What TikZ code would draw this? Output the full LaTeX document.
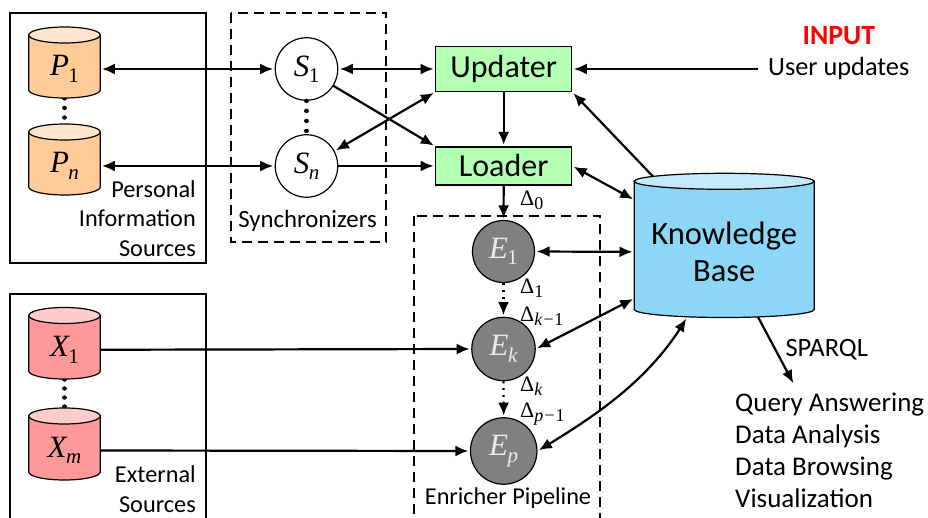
\documentclass[tikz,border=0pt]{standalone}
\usepackage{fontspec}
\setmainfont{Carlito}
\newfontfamily\mathf{Liberation Serif}
\usetikzlibrary{arrows.meta,bending}
\definecolor{porange}{HTML}{FFCC99}
\definecolor{porangetop}{HTML}{FFE5CC}
\definecolor{xred}{HTML}{FF9999}
\definecolor{xredtop}{HTML}{FFCCCC}
\definecolor{upgreen}{HTML}{B3FFB3}
\definecolor{kbblue}{HTML}{8CD7F8}
\definecolor{kbtop}{HTML}{C4E9FB}
\definecolor{engrey}{HTML}{808080}
% big math-like symbol with subscript
\newcommand{\sym}[2]{{\fontsize{31}{31}\mathf\itshape #1\kern-0.5pt\raisebox{-6.5pt}{\fontsize{21}{21}\selectfont #2}}}
\newcommand{\dlt}[1]{{\fontsize{22}{22}\mathf Δ\raisebox{-4pt}{\fontsize{18}{18}\selectfont #1}}}
\newcommand{\cyl}[9]{%
  \draw[cylline,fill=#1] (#4-#6,#5) -- (#4-#6,#7) arc[start angle=180,end angle=0,x radius=#6,y radius=8] -- (#4+#6,#5) -- cycle;
  \draw[cylline,fill=#2] (#4,#5) ellipse[x radius=#6,y radius=8];
  \pgfmathsetmacro{\cyly}{(#5+#7)/2+6.5}
  \pgfmathsetmacro{\cylh}{#7-#5}
  \pgfmathsetmacro{\cylw}{2*#6}
  \node[minimum width=\cylw pt,minimum height=\cylh pt,inner sep=0pt,#8] (#3) at (#4,\cyly) {#9};
}
\tikzset{
  cylline/.style={line width=1.2pt,draw=black},
  conn/.style={line width=2.2pt,-{Latex[length=13pt,width=11pt]},shorten >=1.5pt},
  bothconn/.style={line width=2.2pt,{Latex[length=13pt,width=11pt]}-{Latex[length=13pt,width=11pt]},shorten >=1.5pt,shorten <=1.5pt},
  ellipsis/.style={line width=4.4pt,line cap=round,dash pattern=on 0.01pt off 9.6pt},
  dotconn/.style={line width=2.2pt,dash pattern=on 2pt off 4.8pt,-{Latex[length=13pt,width=11pt]},shorten >=1.5pt},
  outerbox/.style={draw=black,line width=2pt},
  dashbox/.style={draw=black,line width=2pt,dash pattern=on 10pt off 6pt},
  syncnode/.style={circle,draw=black,line width=1.2pt,fill=white,minimum size=62.5pt,inner sep=0pt},
  enrnode/.style={circle,draw=black,line width=1.2pt,fill=engrey,text=black!8,inner sep=0pt},
  compbox/.style={draw=black,line width=1.2pt,fill=upgreen,inner sep=0pt,font=\fontsize{32}{32}\selectfont},
  captxt/.style={inner sep=0pt,font=\fontsize{24.3}{29.5}\selectfont},
  biglabel/.style={inner sep=0pt,font=\fontsize{26}{26}\selectfont},
  dlabel/.style={inner sep=0pt,anchor=west},
}
\begin{document}
\begin{tikzpicture}[x=1pt,y=1pt,yscale=-1]
\clip (0,0) rectangle (928,518);
\fill[white] (0,0) rectangle (928,518);

% containers
\draw[outerbox] (10,13) rectangle (205.5,263);
\draw[outerbox] (10,294) rectangle (205.5,540);
\draw[dashbox] (230.5,13) rectangle (386,242);
\draw[dashbox] (413.5,216) rectangle (600,540);

% ellipses between source cylinders (behind them)
\coordinate (pdotA) at (64.5,98.3);
\coordinate (pdotB) at (64.5,127);
\coordinate (xdotA) at (64.5,379.5);
\coordinate (xdotB) at (64.5,410);
\draw[ellipsis] (pdotA) -- (pdotB);
\draw[ellipsis,dash pattern=on 0.01pt off 9pt] (xdotA) -- (xdotB);

% source cylinders
\cyl{porange}{porangetop}{P1}{64.5}{35}{35.75}{90}{}{\sym{P}{\upshape 1}}
\cyl{porange}{porangetop}{Pn}{64.5}{132}{35.75}{187}{}{\sym{P}{n}}
\cyl{xred}{xredtop}{X1}{64.5}{315.5}{35.75}{371}{}{\sym{X}{\upshape 1}}
\cyl{xred}{xredtop}{Xm}{64.5}{416}{35.75}{472}{}{\sym{X}{m}}

% knowledge base
\cyl{kbblue}{kbtop}{kb}{724.2}{181.3}{90}{309.5}{align=center,font=\fontsize{32.5}{36.5}\selectfont}{Knowledge\\Base}
\coordinate (kbU) at (653,176.5);
\coordinate (kbL) at (634.5,200);
\coordinate (kbK) at (634.5,298.3);
\coordinate (kbP) at (687,317.3);
\coordinate (kbQ) at (758,317);

% synchronizers
\node[syncnode] (S1) at (306.5,69) {\sym{S}{\upshape 1}};
\node[syncnode] (Sn) at (306.5,166) {\sym{S}{n}};
\draw[ellipsis,dash pattern=on 0.01pt off 10pt] (S1.south) -- (Sn.north);

% updater, loader
\node[compbox,minimum width=136pt,minimum height=45pt] (upd) at (503.7,69) {Updater};
\node[compbox,minimum width=136pt,minimum height=38pt] (load) at (503.7,166) {Loader};

% enrichers
\node[enrnode,minimum size=62pt] (E1) at (503.5,251.5) {\sym{E}{\upshape 1}};
\node[enrnode,minimum size=63.4pt] (Ek) at (503.5,349) {\sym{E}{k}};
\node[enrnode,minimum size=66.5pt] (Ep) at (503.7,451) {\sym{E}{p}};

% labels
\node[captxt,anchor=east,align=right] (persLbl) at (196,218.5) {Personal\\Information\\Sources};
\node[captxt,anchor=east,align=right] (extLbl) at (196,489) {External\\Sources};
\node[captxt,font=\fontsize{24.8}{24.8}\selectfont] (syncLbl) at (307.5,221) {Synchronizers};
\node[captxt,font=\fontsize{24.2}{24.2}\selectfont] (enrLbl) at (508,498.5) {Enricher Pipeline};
\node[biglabel,text=red,font=\fontsize{27.8}{27.8}\selectfont\bfseries] (inLbl) at (838.8,36) {INPUT};
\node[biglabel,anchor=west,font=\fontsize{26.3}{26.3}\selectfont] (userLbl) at (768,68.5) {User updates};
\coordinate (userEnd) at (757.7,69);
\node[captxt,font=\fontsize{26.5}{26.5}\selectfont] (sparqlLbl) at (826.7,350) {SPARQL};
\node[biglabel,anchor=north west,align=left,font=\fontsize{27}{32}\selectfont] (qLbl) at (735,393) {Query Answering\\Data Analysis\\Data Browsing\\Visualization};
\coordinate (qEnd) at (794,384.5);
\node[dlabel] (d0) at (520,200) {\dlt{\upshape 0}};
\node[dlabel] (d1) at (520,288) {\dlt{\upshape 1}};
\node[dlabel] (dk1) at (520,316) {\dlt{\itshape k−\upshape 1}};
\node[dlabel] (dk) at (520,386) {\dlt{\itshape k}};
\node[dlabel] (dp1) at (520,414) {\dlt{\itshape p−\upshape 1}};

% connectors
\draw[bothconn] (P1.east) -- (S1.west);
\draw[bothconn] (Pn.east) -- (Sn.west);
\draw[bothconn] (S1.east) -- (upd.west);
\draw[conn] (Sn.east) -- (load.west);
\draw[conn] (S1.-32) -- (load.north west);
\draw[bothconn] (Sn.28) -- (upd.south west);
\draw[conn] (upd.south) -- (load.north);
\draw[conn] (load.south) -- (E1.north);
\draw[conn] (userEnd) -- (upd.east);
\draw[conn] (kbU) -- (upd.south east);
\draw[bothconn] (load.east) -- (kbL);
\draw[bothconn] (E1.east) -- (kb.west);
\draw[bothconn] (Ek.east) -- (kbK);
\draw[bothconn] (Ep.east) to[out=-31,in=120,looseness=0.9] (kbP);
\draw[conn] (kbQ) -- (qEnd);
\draw[conn] (X1.east) -- (Ek.west);
\draw[conn] (Xm.east) -- (Ep.west);
\draw[dotconn] (E1.south) -- (Ek.north);
\draw[dotconn] (Ek.south) -- (Ep.north);
\end{tikzpicture}
\end{document}
